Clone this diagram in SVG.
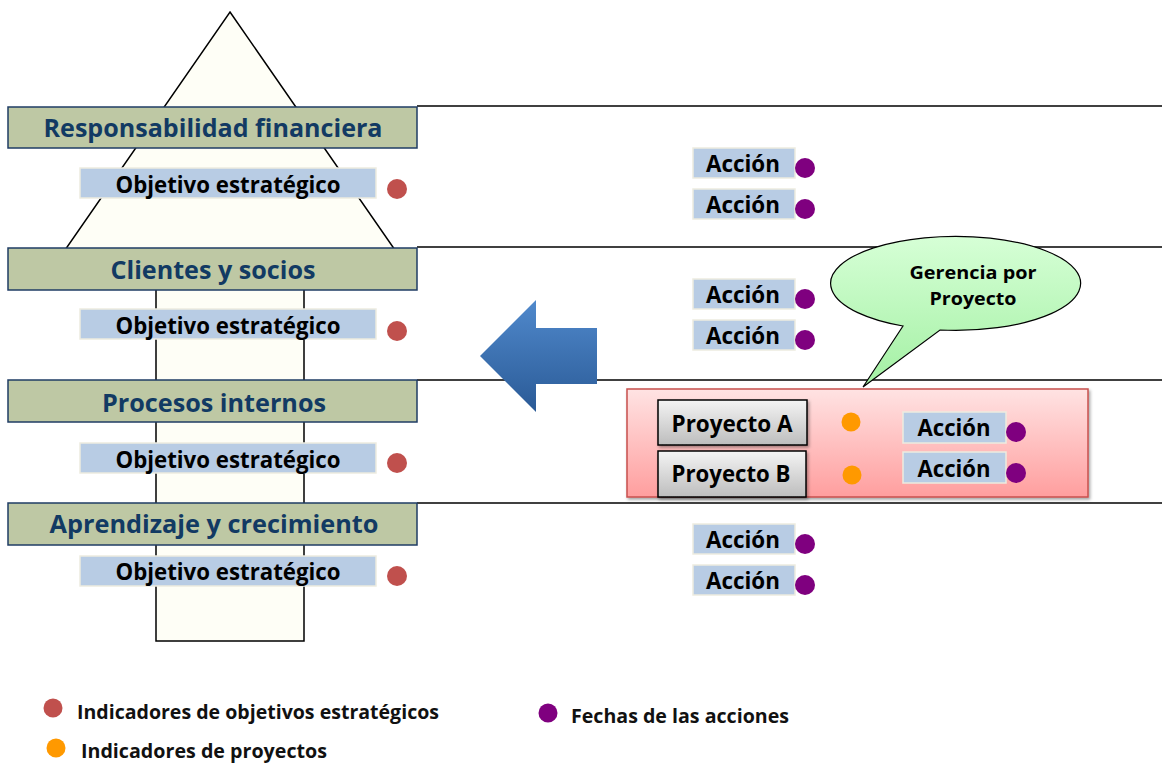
<svg xmlns="http://www.w3.org/2000/svg" width="1162" height="763" viewBox="0 0 1162 763">
<defs>
<linearGradient id="gArrow" x1="0" y1="0" x2="0" y2="1">
<stop offset="0" stop-color="#5089CC"/>
<stop offset="1" stop-color="#2A5A96"/>
</linearGradient>
<linearGradient id="gBubble" x1="0" y1="0" x2="0" y2="1">
<stop offset="0" stop-color="#D6FFD6"/>
<stop offset="1" stop-color="#A3F0A3"/>
</linearGradient>
<linearGradient id="gPink" x1="0" y1="0" x2="0" y2="1">
<stop offset="0" stop-color="#FFE3E3"/>
<stop offset="1" stop-color="#FF9E9E"/>
</linearGradient>
<linearGradient id="gGray" x1="0" y1="0" x2="0" y2="1">
<stop offset="0" stop-color="#F4F4F4"/>
<stop offset="1" stop-color="#BDBDBD"/>
</linearGradient>
<filter id="shadow" x="-5%" y="-10%" width="112%" height="130%">
<feDropShadow dx="1.5" dy="2" stdDeviation="1.5" flood-color="#000" flood-opacity="0.35"/>
</filter>
<style>
.hdr{fill:#BEC8A4;stroke:#1F3C64;stroke-width:1.5}
.hdrt{font-family:"Open Sans","Noto Sans","Liberation Sans",sans-serif;font-weight:bold;font-size:25px;fill:#123A63;text-anchor:middle}
.obj{fill:#B8CCE4;stroke:#EDEBDF;stroke-width:1.5}
.objt{font-family:"Open Sans","Noto Sans","Liberation Sans",sans-serif;font-weight:bold;font-size:22.5px;fill:#000;text-anchor:middle}
.acc{fill:#B8CCE4;stroke:#EDEBDF;stroke-width:1.5}
.acct{font-family:"Open Sans","Noto Sans","Liberation Sans",sans-serif;font-weight:bold;font-size:23px;fill:#000;text-anchor:middle}
.red{fill:#C0504D}
.pur{fill:#7F007F}
.org{fill:#FF9900}
.sep{stroke:#000;stroke-width:1.5;fill:none}
.legt{font-family:"Open Sans","Noto Sans","Liberation Sans",sans-serif;font-weight:bold;font-size:19.5px;fill:#111}
.proj{fill:url(#gGray);stroke:#000;stroke-width:1.5}
.projt{font-family:"Open Sans","Noto Sans","Liberation Sans",sans-serif;font-weight:bold;font-size:23px;fill:#000;text-anchor:middle}
.bubt{font-family:"Open Sans","Noto Sans","Liberation Sans",sans-serif;font-weight:bold;font-size:18px;fill:#000;text-anchor:middle}
</style>
</defs>
<rect width="1162" height="763" fill="#FFFFFF"/>

<g id="pyramid">
<polygon points="230,12 395,250 304,250 304,641 156,641 156,250 65,250" fill="#FEFEF6" stroke="#000" stroke-width="1.5" stroke-linejoin="miter"/>
</g>

<g id="lanes">
<line class="sep" x1="417" y1="106" x2="1162" y2="106"/>
<line class="sep" x1="417" y1="247" x2="1162" y2="247"/>
<line class="sep" x1="417" y1="380" x2="1162" y2="380"/>
<line class="sep" x1="417" y1="503" x2="1162" y2="503"/>
</g>

<g id="hdr-financiera">
<rect class="hdr" x="8" y="107" width="409" height="41"/>
<text class="hdrt" x="213" y="137" textLength="339" lengthAdjust="spacingAndGlyphs">Responsabilidad financiera</text>
</g>
<g id="hdr-clientes">
<rect class="hdr" x="8" y="248" width="409" height="42"/>
<text class="hdrt" x="213" y="279" textLength="205" lengthAdjust="spacingAndGlyphs">Clientes y socios</text>
</g>
<g id="hdr-procesos">
<rect class="hdr" x="8" y="380" width="409" height="42"/>
<text class="hdrt" x="214" y="412" textLength="224" lengthAdjust="spacingAndGlyphs">Procesos internos</text>
</g>
<g id="hdr-aprendizaje">
<rect class="hdr" x="8" y="503" width="409" height="42"/>
<text class="hdrt" x="214" y="533" textLength="329" lengthAdjust="spacingAndGlyphs">Aprendizaje y crecimiento</text>
</g>

<g id="obj-1">
<rect class="obj" x="80" y="168" width="296" height="30"/>
<text class="objt" x="228" y="193" textLength="225" lengthAdjust="spacingAndGlyphs">Objetivo estratégico</text>
<circle class="red" cx="397" cy="189" r="10"/>
</g>
<g id="obj-2">
<rect class="obj" x="80" y="309" width="296" height="30"/>
<text class="objt" x="228" y="334" textLength="225" lengthAdjust="spacingAndGlyphs">Objetivo estratégico</text>
<circle class="red" cx="397" cy="331" r="10"/>
</g>
<g id="obj-3">
<rect class="obj" x="80" y="443" width="296" height="30"/>
<text class="objt" x="228" y="468" textLength="225" lengthAdjust="spacingAndGlyphs">Objetivo estratégico</text>
<circle class="red" cx="397" cy="463" r="10"/>
</g>
<g id="obj-4">
<rect class="obj" x="80" y="556" width="296" height="30"/>
<text class="objt" x="228" y="580" textLength="225" lengthAdjust="spacingAndGlyphs">Objetivo estratégico</text>
<circle class="red" cx="397" cy="576" r="10"/>
</g>

<g id="acc-1a">
<rect class="acc" x="693" y="148" width="102" height="30"/>
<text class="acct" x="743" y="172" textLength="74" lengthAdjust="spacingAndGlyphs">Acción</text>
<circle class="pur" cx="805" cy="168" r="10"/>
</g>
<g id="acc-1b">
<rect class="acc" x="693" y="189" width="102" height="30"/>
<text class="acct" x="743" y="213" textLength="74" lengthAdjust="spacingAndGlyphs">Acción</text>
<circle class="pur" cx="805" cy="209" r="10"/>
</g>
<g id="acc-2a">
<rect class="acc" x="693" y="279" width="102" height="30"/>
<text class="acct" x="743" y="303" textLength="74" lengthAdjust="spacingAndGlyphs">Acción</text>
<circle class="pur" cx="805" cy="299" r="10"/>
</g>
<g id="acc-2b">
<rect class="acc" x="693" y="320" width="102" height="30"/>
<text class="acct" x="743" y="344" textLength="74" lengthAdjust="spacingAndGlyphs">Acción</text>
<circle class="pur" cx="805" cy="340" r="10"/>
</g>
<g id="acc-4a">
<rect class="acc" x="693" y="524" width="102" height="30"/>
<text class="acct" x="743" y="548" textLength="74" lengthAdjust="spacingAndGlyphs">Acción</text>
<circle class="pur" cx="805" cy="544" r="10"/>
</g>
<g id="acc-4b">
<rect class="acc" x="693" y="565" width="102" height="30"/>
<text class="acct" x="743" y="589" textLength="74" lengthAdjust="spacingAndGlyphs">Acción</text>
<circle class="pur" cx="805" cy="585" r="10"/>
</g>

<g id="connectors">
<polygon points="480,356 536,300 536,328 597,328 597,384 536,384 536,412" fill="url(#gArrow)"/>
</g>

<g id="proyectos">
<rect x="627" y="389" width="461" height="108" fill="url(#gPink)" stroke="#C8504E" stroke-width="1.5" filter="url(#shadow)"/>
<g id="proyecto-a">
<rect class="proj" x="658" y="400" width="149" height="45" filter="url(#shadow)"/>
<text class="projt" x="732" y="432" textLength="121" lengthAdjust="spacingAndGlyphs">Proyecto A</text>
<circle class="org" cx="851" cy="422" r="9.5"/>
</g>
<g id="proyecto-b">
<rect class="proj" x="658" y="451" width="148" height="46" filter="url(#shadow)"/>
<text class="projt" x="731" y="482" textLength="119" lengthAdjust="spacingAndGlyphs">Proyecto B</text>
<circle class="org" cx="852" cy="475" r="9.5"/>
</g>
<g id="acc-3a">
<rect class="acc" x="903" y="412" width="103" height="31"/>
<text class="acct" x="954" y="436" textLength="73" lengthAdjust="spacingAndGlyphs">Acción</text>
<circle class="pur" cx="1016" cy="432" r="10"/>
</g>
<g id="acc-3b">
<rect class="acc" x="903" y="452" width="103" height="31"/>
<text class="acct" x="954" y="477" textLength="73" lengthAdjust="spacingAndGlyphs">Acción</text>
<circle class="pur" cx="1016" cy="473" r="10"/>
</g>
</g>

<g id="bubble">
<path d="M 903,326 A 125,47 0 1 1 940,330 L 863,387 Z" fill="url(#gBubble)" stroke="#000" stroke-width="1.2" stroke-linejoin="miter"/>
<text class="bubt" x="973" y="279" textLength="127" lengthAdjust="spacingAndGlyphs">Gerencia por</text>
<text class="bubt" x="973" y="305" textLength="87" lengthAdjust="spacingAndGlyphs">Proyecto</text>
</g>

<g id="legend">
<circle class="red" cx="53" cy="708" r="9.5"/>
<text class="legt" x="77" y="719" textLength="362" lengthAdjust="spacingAndGlyphs">Indicadores de objetivos estratégicos</text>
<circle class="org" cx="56" cy="748" r="9.5"/>
<text class="legt" x="81" y="758" textLength="246" lengthAdjust="spacingAndGlyphs">Indicadores de proyectos</text>
<circle class="pur" cx="548" cy="713" r="9.5"/>
<text class="legt" x="571" y="723" textLength="218" lengthAdjust="spacingAndGlyphs">Fechas de las acciones</text>
</g>
</svg>
